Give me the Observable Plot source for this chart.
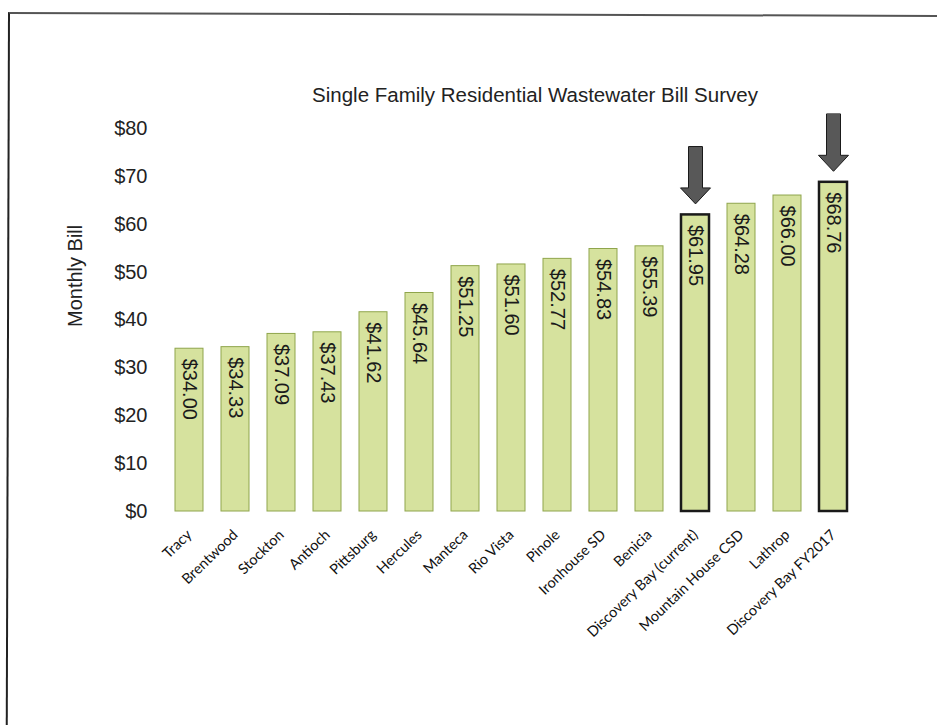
<!DOCTYPE html>
<html>
<head>
<meta charset="utf-8">
<script src="https://cdn.jsdelivr.net/npm/d3@7"></script>
<script src="https://cdn.jsdelivr.net/npm/@observablehq/plot@0.6"></script>
<style>
  html, body { margin: 0; padding: 0; background: #fff; }
  #wrap { position: relative; width: 937px; height: 725px; overflow: hidden; }
  #frame { position: absolute; left: 8px; top: 12px; right: -4px; bottom: -4px;
           border-top: 2px solid #555; border-left: 2px solid #222; pointer-events: none;
           transform-origin: 0 0; transform: rotate(0.18deg); }
  #title { height: 108px; box-sizing: border-box; padding-top: 83px; padding-left: 133px; width: 937px;
           text-align: center; font-family: "Liberation Sans", Arial, sans-serif; font-size: 20.5px;
           line-height: 24px; color: #222; }
  #chart svg { display: block; overflow: visible; }
</style>
</head>
<body>
<div id="wrap">
  <div id="frame"></div>
  <div id="title">Single Family Residential Wastewater Bill Survey</div>
  <div id="chart"></div>
</div>
<script>
const names = ["Tracy", "Brentwood", "Stockton", "Antioch", "Pittsburg", "Hercules", "Manteca", "Rio Vista",
  "Pinole", "Ironhouse SD", "Benicia", "Discovery Bay (current)", "Mountain House CSD", "Lathrop", "Discovery Bay FY2017"];
const bills = [34.00, 34.33, 37.09, 37.43, 41.62, 45.64, 51.25, 51.60, 52.77, 54.83, 55.39, 61.95, 64.28, 66.00, 68.76];
const highlighted = ["Discovery Bay (current)", "Discovery Bay FY2017"];
const yTicks = [0, 10, 20, 30, 40, 50, 60, 70, 80];
const yLabel = "Monthly Bill";

const data = names.map((name, i) => ({name, value: bills[i], hi: highlighted.includes(name)}));
const normal = data.filter(d => !d.hi);
const hiData = data.filter(d => d.hi);

const blockArrow = {
  draw(context, l) {
    const head = 16, hw = 15, sw = 7;
    context.moveTo(-sw, 0);
    context.lineTo(-sw, -(l - head));
    context.lineTo(-hw, -(l - head));
    context.lineTo(0, -l);
    context.lineTo(hw, -(l - head));
    context.lineTo(sw, -(l - head));
    context.lineTo(sw, 0);
    context.closePath();
  }
};

const chart = Plot.plot({
  width: 937,
  height: 615,
  marginLeft: 165,
  marginRight: 81,
  marginTop: 20,
  marginBottom: 212,
  style: {fontFamily: "'Liberation Sans', Arial, sans-serif", fontSize: "20px", color: "#222", background: "transparent"},
  x: {domain: names, paddingInner: 0.4, paddingOuter: 0.2, label: null},
  y: {domain: [0, 80], label: null},
  marks: [
    Plot.axisY({ticks: yTicks, tickFormat: d => "$" + d, tickSize: 0, tickPadding: 18, fontSize: 20, label: null}),
    Plot.axisX({tickSize: 0, tickPadding: 21, tickRotate: -44, fontSize: 14.5, fontFamily: "Lato, 'Open Sans', sans-serif", fill: "#111", label: null}),
    Plot.barY(normal, {x: "name", y: "value", fill: "#d6e29e", stroke: "#8fa54c", strokeWidth: 1}),
    Plot.barY(hiData, {x: "name", y: "value", fill: "#d6e29e", stroke: "#1a1a1a", strokeWidth: 2.5}),
    Plot.text(data, {x: "name", y: "value", text: d => "$" + d.value.toFixed(2), rotate: 90, textAnchor: "start",
      lineAnchor: "middle", dy: 10, fontSize: 20, fill: "#1a1a1a"}),
    Plot.vector(hiData, {x: "name", y: "value", length: 57, rotate: 180, anchor: "end", dy: -11,
      shape: blockArrow, fill: "#585858", stroke: "#1a1a1a", strokeWidth: 1}),
    Plot.text([yLabel], {text: d => d, frameAnchor: "left", rotate: -90, dx: -90, dy: 7, fontSize: 20, fill: "#222"})
  ]
});
document.getElementById("chart").appendChild(chart);
</script>
</body>
</html>
